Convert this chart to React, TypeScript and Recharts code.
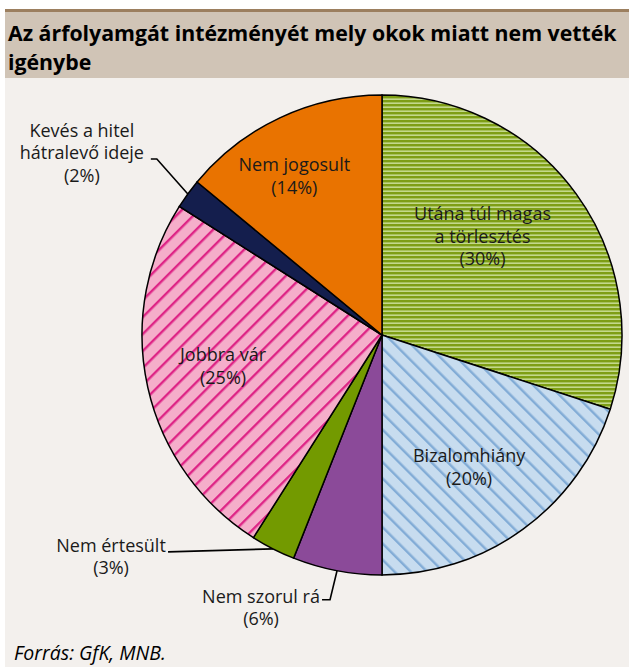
import { Pie, PieChart, Cell } from 'recharts'

const reasons = [
  'Utána túl magas|a törlesztés',
  'Bizalomhiány',
  'Nem szorul rá',
  'Nem értesült',
  'Jobbra vár',
  'Kevés a hitel|hátralevő ideje',
  'Nem jogosult'
]
const shares = [30, 20, 6, 3, 25, 2, 14]
const fills = [
  'url(#greenStripes)',
  'url(#blueDiag)',
  '#8B4A99',
  '#739A00',
  'url(#pinkDiag)',
  '#141E4D',
  '#E97300'
]

const data = reasons.map((name, i) => ({ name, value: shares[i] }))

const RADIAN = Math.PI / 180
const FONT = '"Open Sans", sans-serif'

// label placement per slice: inside ones use a radius factor (+ nudge), outside ones
// use an offset from the rim point plus a leader line
const labelStyle: Record<string, any> = {
  'Utána túl magas|a törlesztés': { r: 0.6, nx: -16, ny: -14 },
  'Bizalomhiány': { r: 0.66, nx: -6, ny: 4 },
  'Jobbra vár': { r: 0.67, nx: -2, ny: -4 },
  'Nem jogosult': { r: 0.76, nx: -10, ny: 6 },
  'Kevés a hitel|hátralevő ideje': { tx: -106, ty: -41, line: [[-31, -35], [-37, -35]] },
  'Nem értesült': { tx: -162, ty: 8, line: [[-105, 3]] },
  'Nem szorul rá': { tx: -76, ty: 37, line: [[-7, 29], [-15, 29]] }
}

function renderLabel(props: any) {
  const { cx, cy, midAngle, outerRadius, name, value } = props
  const cfg = labelStyle[name] || { r: 0.65 }
  const lines = [...name.split('|'), `(${value}%)`]
  const cos = Math.cos(-midAngle * RADIAN)
  const sin = Math.sin(-midAngle * RADIAN)
  let x: number
  let y: number
  let leader = null
  if (cfg.line) {
    const ex = cx + outerRadius * cos
    const ey = cy + outerRadius * sin
    x = ex + cfg.tx
    y = ey + cfg.ty
    const pts = [[0, 0], ...cfg.line].map(p => `${ex + p[0]},${ey + p[1]}`).join(' ')
    leader = <polyline points={pts} fill="none" stroke="#000" strokeWidth={1.6} />
  } else {
    x = cx + outerRadius * cfg.r * cos + (cfg.nx || 0)
    y = cy + outerRadius * cfg.r * sin + (cfg.ny || 0)
  }
  const lh = 22.5
  const top = y - ((lines.length - 1) * lh) / 2
  return (
    <g>
      {leader}
      <text x={x} y={top} textAnchor="middle" fontFamily={FONT} fontSize={18} fill="#1a1a1a">
        {lines.map((t, i) => (
          <tspan key={i} x={x} y={top + i * lh} dy="0.35em">{t}</tspan>
        ))}
      </text>
    </g>
  )
}

export default function App() {
  return (
    <div style={{ position: 'absolute', left: 0, top: 0, width: 629, height: 667, background: '#fff', overflow: 'hidden' }}>
      <svg width={0} height={0} style={{ position: 'absolute' }}>
        <defs>
          <pattern id="greenStripes" patternUnits="userSpaceOnUse" width={8} height={4}>
            <rect width={8} height={4} fill="#C3D88B" />
            <rect width={8} height={2.4} fill="#7E9E15" />
          </pattern>
          <pattern id="blueDiag" patternUnits="userSpaceOnUse" width={11.5} height={11.5} patternTransform="rotate(-45)">
            <rect width={11.5} height={11.5} fill="#C7DCEF" />
            <rect width={2.4} height={11.5} fill="#82ACD6" />
          </pattern>
          <pattern id="pinkDiag" patternUnits="userSpaceOnUse" width={12} height={12} patternTransform="rotate(45)">
            <rect width={12} height={12} fill="#F5AECA" />
            <rect width={2.4} height={12} fill="#DE2586" />
          </pattern>
        </defs>
      </svg>
      <div style={{ position: 'absolute', left: 5, top: 9, width: 624, height: 3, background: '#9C7F5F' }} />
      <div style={{ position: 'absolute', left: 5, top: 12, width: 624, height: 66, background: '#D0C4B6' }} />
      <div style={{ position: 'absolute', left: 5, top: 78, width: 624, height: 589, background: '#F3F0ED' }} />
      <div
        style={{
          position: 'absolute',
          left: 8,
          top: 18,
          width: 618,
          fontFamily: FONT,
          fontWeight: 700,
          fontSize: 21.3,
          lineHeight: '29px',
          color: '#000'
        }}
      >
        Az árfolyamgát intézményét mely okok miatt nem vették igénybe
      </div>
      <div style={{ position: 'absolute', left: 0, top: 0 }}>
        <PieChart width={629} height={667}>
          <Pie
            data={data}
            dataKey="value"
            nameKey="name"
            cx={377}
            cy={330}
            outerRadius={240}
            startAngle={90}
            endAngle={-270}
            stroke="#000"
            strokeWidth={1.5}
            label={renderLabel}
            labelLine={false}
            isAnimationActive={false}
          >
            {data.map((d, i) => (
              <Cell key={d.name} fill={fills[i]} />
            ))}
          </Pie>
        </PieChart>
      </div>
      <div
        style={{
          position: 'absolute',
          left: 14,
          top: 638,
          fontFamily: FONT,
          fontStyle: 'italic',
          fontSize: 19.5,
          lineHeight: '30px',
          color: '#000'
        }}
      >
        Forrás: GfK, MNB.
      </div>
    </div>
  )
}
